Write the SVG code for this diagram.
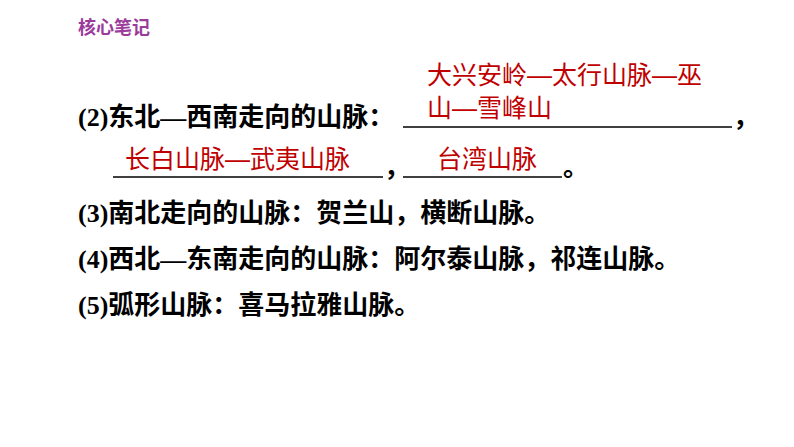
<svg xmlns="http://www.w3.org/2000/svg" width="794" height="447" viewBox="0 0 794 447">
<style>
.t{font-family:"Liberation Serif","Noto Sans CJK SC",serif;font-size:26px;font-weight:bold;fill:#000}
.r{font-family:"Liberation Sans","Noto Sans CJK SC",sans-serif;font-size:25px;fill:#c00000}
.u{stroke:#000;stroke-width:1.5}
</style>
<rect width="794" height="447" fill="#fff"/>
<text x="78" y="34" style="font-family:'Noto Sans CJK SC',sans-serif;font-size:18px;font-weight:bold;fill:#9b3b9b">核心笔记</text>
<g id="line2">
<text class="t" x="78" y="126">(2)东北—西南走向的山脉：</text>
<line class="u" x1="403" y1="127" x2="732" y2="127"/>
<text class="t" x="733" y="126">，</text>
<text class="r" x="427" y="84">大兴安岭—太行山脉—巫</text>
<text class="r" x="427" y="117">山—雪峰山</text>
<line class="u" x1="113" y1="177" x2="383" y2="177"/>
<text class="r" x="125" y="168">长白山脉—武夷山脉</text>
<text class="t" x="384" y="176">，</text>
<line class="u" x1="403" y1="177" x2="562" y2="177"/>
<text class="r" x="437" y="168">台湾山脉</text>
<text class="t" x="563" y="176">。</text>
</g>
<text class="t" x="78" y="222">(3)南北走向的山脉：贺兰山，横断山脉。</text>
<text class="t" x="78" y="268">(4)西北—东南走向的山脉：阿尔泰山脉，祁连山脉。</text>
<text class="t" x="78" y="314">(5)弧形山脉：喜马拉雅山脉。</text>
</svg>
